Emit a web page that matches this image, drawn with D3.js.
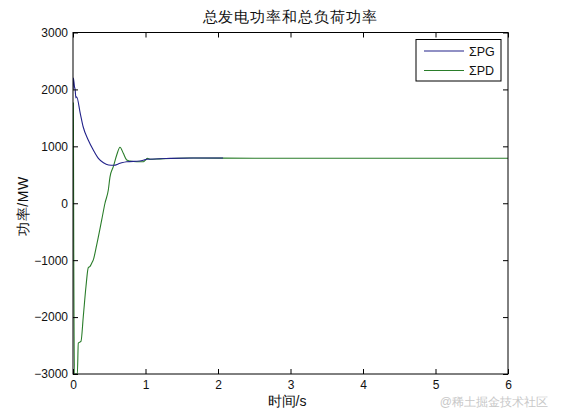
<!DOCTYPE html>
<html>
<head>
<meta charset="utf-8">
<script src="https://cdn.jsdelivr.net/npm/d3@7"></script>
<style>
  body { margin: 0; background: #fff; }
  text { font-family: "Liberation Sans", Arial, sans-serif; }
</style>
</head>
<body>
<svg id="chart" width="561" height="420"></svg>
<script>
'use strict'

// time (s) and power (MW)
const pgTime = [0, 0.005, 0.02, 0.03, 0.04, 0.05, 0.1, 0.14, 0.21, 0.28, 0.35, 0.42, 0.49, 0.53, 0.56, 0.65, 0.74, 0.92, 1.02, 1.34, 1.66, 2.07]
const pgPower = [2000, 2200, 2050, 1990, 1850, 1870, 1579, 1344, 1111, 935, 789, 712, 672, 668, 667, 702, 730, 742, 772, 789, 795, 795]

const pdTime = [0, 0.005, 0.01, 0.02, 0.04, 0.06, 0.073, 0.11, 0.142, 0.179, 0.211, 0.235, 0.258, 0.28, 0.327, 0.396, 0.441, 0.487, 0.51, 0.556, 0.603, 0.648, 0.694, 0.741, 0.786, 0.879, 0.97, 1.0, 1.025, 1.062, 1.2, 1.6, 2.5, 6]
const pdPower = [1760, 1760, -670, -3000, -3000, -3000, -2456, -2427, -1989, -1463, -1130, -1110, -1053, -995, -731, -293, 0, 233, 460, 643, 847, 985, 877, 760, 742, 730, 730, 760, 789, 772, 780, 795, 790, 790]

const xTicks = [0, 1, 2, 3, 4, 5, 6]
const yTicks = [-3000, -2000, -1000, 0, 1000, 2000, 3000]
const seriesNames = ['ΣPG', 'ΣPD']
const seriesColors = ['#22228a', '#2a7d2a']

const svg = d3.select('#chart')
const plotLeft = 73, plotRight = 508, plotTop = 32.5, plotBottom = 374

const x = d3.scaleLinear().domain([0, 6]).range([plotLeft, plotRight])
const y = d3.scaleLinear().domain([-3000, 3000]).range([plotBottom, plotTop])

const line = d3.line()
	.x(d => x(d[0]))
	.y(d => y(d[1]))
	.curve(d3.curveMonotoneX)

function zip(ts, vs) {
	return ts.map((t, i) => [t, vs[i]])
}

// clip to the plot box
svg.append('clipPath').attr('id', 'plotClip')
	.append('rect')
	.attr('x', plotLeft).attr('y', plotTop)
	.attr('width', plotRight - plotLeft).attr('height', plotBottom - plotTop)

const plot = svg.append('g').attr('clip-path', 'url(#plotClip)')
plot.append('path')
	.attr('d', line(zip(pdTime, pdPower)))
	.attr('fill', 'none')
	.attr('stroke', seriesColors[1])
	.attr('stroke-width', 1.1)
plot.append('path')
	.attr('d', line(zip(pgTime, pgPower)))
	.attr('fill', 'none')
	.attr('stroke', seriesColors[0])
	.attr('stroke-width', 1.1)

// axes, ticks pointing inward on all sides like matlab
const tickLen = 5
const axisStyle = g => {
	g.select('.domain').remove()
	g.selectAll('.tick line').attr('stroke', '#000')
	g.selectAll('.tick text').attr('fill', '#111').attr('font-size', 12)
}

svg.append('g')
	.attr('transform', 'translate(0,' + plotBottom + ')')
	.call(d3.axisBottom(x).tickValues(xTicks).tickSizeInner(-tickLen).tickSizeOuter(0).tickPadding(6).tickFormat(d3.format('d')))
	.call(axisStyle)
svg.append('g')
	.attr('transform', 'translate(0,' + plotTop + ')')
	.call(d3.axisTop(x).tickValues(xTicks).tickSizeInner(-tickLen).tickSizeOuter(0).tickFormat(''))
	.call(axisStyle)
svg.append('g')
	.attr('transform', 'translate(' + plotLeft + ',0)')
	.call(d3.axisLeft(y).tickValues(yTicks).tickSizeInner(-tickLen).tickSizeOuter(0).tickPadding(5).tickFormat(d3.format('d')))
	.call(axisStyle)
svg.append('g')
	.attr('transform', 'translate(' + plotRight + ',0)')
	.call(d3.axisRight(y).tickValues(yTicks).tickSizeInner(-tickLen).tickSizeOuter(0).tickFormat(''))
	.call(axisStyle)

svg.append('rect')
	.attr('x', plotLeft).attr('y', plotTop)
	.attr('width', plotRight - plotLeft).attr('height', plotBottom - plotTop)
	.attr('fill', 'none')
	.attr('stroke', '#000')
	.attr('stroke-width', 1)

// title and labels
svg.append('text')
	.attr('x', 290).attr('y', 22)
	.attr('text-anchor', 'middle')
	.attr('font-size', 15)
	.attr('letter-spacing', 0.9)
	.attr('fill', '#111')
	.text('总发电功率和总负荷功率')
svg.append('text')
	.attr('x', 287).attr('y', 406)
	.attr('text-anchor', 'middle')
	.attr('font-size', 14)
	.attr('fill', '#111')
	.text('时间/s')
svg.append('text')
	.attr('transform', 'translate(28,206) rotate(-90)')
	.attr('text-anchor', 'middle')
	.attr('font-size', 14)
	.attr('letter-spacing', 0.5)
	.attr('fill', '#111')
	.text('功率/MW')

// legend
const legend = svg.append('g').attr('transform', 'translate(416,39.5)')
legend.append('rect')
	.attr('width', 85).attr('height', 41.5)
	.attr('fill', '#fff')
	.attr('stroke', '#000')
seriesNames.forEach((name, i) => {
	const ly = 11.5 + i * 19.5
	legend.append('line')
		.attr('x1', 8).attr('x2', 48)
		.attr('y1', ly).attr('y2', ly)
		.attr('stroke', seriesColors[i])
		.attr('stroke-width', 1.1)
	legend.append('text')
		.attr('x', 53).attr('y', ly + 4.5)
		.attr('font-size', 12.5)
		.attr('fill', '#111')
		.text(name)
})

// watermark
svg.append('text')
	.attr('x', 548).attr('y', 406)
	.attr('text-anchor', 'end')
	.attr('font-size', 12)
	.attr('fill', '#c8c8c8')
	.attr('font-family', '"Noto Sans CJK SC", sans-serif')
	.text('@稀土掘金技术社区')
</script>
</body>
</html>
